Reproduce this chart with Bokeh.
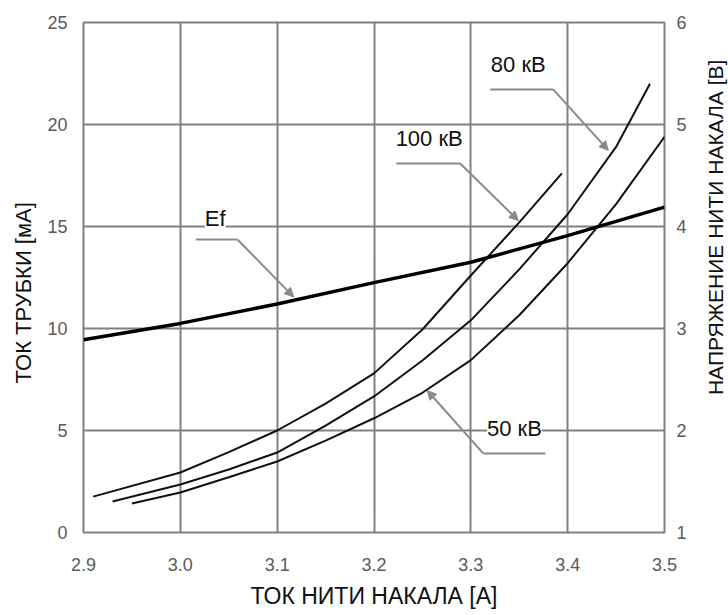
import math
from bokeh.plotting import figure
from bokeh.layouts import row
from bokeh.models import Range1d, LinearAxis, FixedTicker, Label, Arrow, NormalHead, PrintfTickFormatter
from bokeh.embed import file_html
from bokeh.resources import INLINE

# ---- data ----
x_ticks = [2.9, 3.0, 3.1, 3.2, 3.3, 3.4, 3.5]
y_ticks = [0, 5, 10, 15, 20, 25]
v_ticks = [1, 2, 3, 4, 5, 6]

x_100 = [2.91, 3.0, 3.05, 3.1, 3.15, 3.2, 3.25, 3.3, 3.35, 3.394]
i_100 = [1.76, 2.94, 3.94, 5.0, 6.32, 7.8, 9.95, 12.6, 15.2, 17.6]

x_80 = [2.93, 3.0, 3.05, 3.1, 3.15, 3.2, 3.25, 3.3, 3.35, 3.4, 3.45, 3.485]
i_80 = [1.52, 2.35, 3.09, 3.92, 5.24, 6.67, 8.43, 10.4, 12.9, 15.6, 18.9, 22.0]

x_50 = [2.95, 3.0, 3.05, 3.1, 3.15, 3.2, 3.25, 3.3, 3.35, 3.4, 3.45, 3.5]
i_50 = [1.42, 1.96, 2.71, 3.48, 4.5, 5.6, 6.85, 8.45, 10.65, 13.2, 16.1, 19.4]

x_ef = [2.9, 3.0, 3.1, 3.2, 3.3, 3.4, 3.5]
v_ef = [2.89, 3.05, 3.24, 3.45, 3.65, 3.91, 4.19]

labels = ["Ef", "100 кВ", "80 кВ", "50 кВ"]
label_x = [3.036, 3.257, 3.349, 3.345]
label_y = [15.39, 19.3, 22.94, 5.1]
# leader lines: start (free end), elbow, arrow tip
lead_start = [(3.016, 14.36), (3.223, 18.09), (3.320, 21.72), (3.377, 3.87)]
lead_elbow = [(3.059, 14.36), (3.289, 18.09), (3.385, 21.72), (3.313, 3.87)]
lead_tip = [(3.117, 11.55), (3.349, 15.29), (3.442, 18.73), (3.255, 6.96)]

x_title = "ТОК НИТИ НАКАЛА [А]"
y_title = "ТОК ТРУБКИ [мА]"
v_title = "НАПРЯЖЕНИЕ НИТИ НАКАЛА [В]"

FONT = "Liberation Sans"
GRID = "#808080"
H = 615

p = figure(width=700, height=H,
           x_range=Range1d(2.9, 3.5), y_range=Range1d(0, 25),
           output_backend="svg", toolbar_location=None,
           min_border_left=83, min_border_right=36,
           min_border_top=22, min_border_bottom=83,
           background_fill_color="white", border_fill_color="white")
p.extra_y_ranges = {"v": Range1d(1, 6)}

xaxis = p.below[0]
laxis = p.left[0]
xaxis.ticker = FixedTicker(ticks=x_ticks)
xaxis.formatter = PrintfTickFormatter(format="%.1f")
laxis.ticker = FixedTicker(ticks=y_ticks)
p.xgrid.ticker = FixedTicker(ticks=x_ticks)
p.ygrid.ticker = FixedTicker(ticks=y_ticks)

raxis = LinearAxis(y_range_name="v", ticker=FixedTicker(ticks=v_ticks))
p.add_layout(raxis, "right")

xaxis.axis_label = x_title
laxis.axis_label = y_title + "\u00a0" * 5

for ax in [xaxis, laxis, raxis]:
    ax.axis_line_color = None
    ax.major_tick_line_color = None
    ax.major_tick_out = 0
    ax.major_tick_in = 0
    ax.minor_tick_line_color = None
    ax.minor_tick_out = 0
    ax.major_label_text_font = FONT
    ax.major_label_text_font_size = "18px"
    ax.major_label_text_color = "#5a5a5a"
    ax.axis_label_text_font = FONT
    ax.axis_label_text_font_size = "22px"
    ax.axis_label_text_font_style = "normal"
    ax.axis_label_text_color = "#111111"

xaxis.axis_label_text_font_size = "23px"
xaxis.major_label_standoff = 25
xaxis.axis_label_standoff = 9
laxis.major_label_standoff = 16
laxis.axis_label_standoff = 8
raxis.major_label_standoff = 12

p.grid.grid_line_color = GRID
p.grid.grid_line_width = 2
p.outline_line_color = GRID
p.outline_line_width = 2
p.outline_line_alpha = 1

# curves
p.line(x_100, i_100, line_color="#111111", line_width=2)
p.line(x_80, i_80, line_color="#111111", line_width=2)
p.line(x_50, i_50, line_color="#111111", line_width=2)
p.line(x_ef, v_ef, y_range_name="v", line_color="#000000", line_width=3.5)

# leaders
for s, e, t in zip(lead_start, lead_elbow, lead_tip):
    p.line([s[0], e[0]], [s[1], e[1]], line_color="#8a8a8a", line_width=2)
    p.add_layout(Arrow(end=NormalHead(size=9, fill_color="#8a8a8a", line_color="#8a8a8a"),
                       x_start=e[0], y_start=e[1], x_end=t[0], y_end=t[1],
                       line_color="#8a8a8a", line_width=2))

for txt, lx, ly in zip(labels, label_x, label_y):
    bg = "white" if txt in ("Ef", "50 кВ") else None
    p.add_layout(Label(x=lx, y=ly, text=txt, text_font=FONT, text_font_size="22px",
                       text_color="#111111", text_align="center", text_baseline="middle",
                       background_fill_color=bg))

# narrow strip on the right carrying the right-axis title (reads bottom-to-top)
p2 = figure(width=28, height=H, x_range=Range1d(0, 28), y_range=Range1d(0, H),
            output_backend="svg", toolbar_location=None,
            x_axis_type=None, y_axis_type=None,
            min_border_left=0, min_border_right=0, min_border_top=0, min_border_bottom=0,
            background_fill_color="white", border_fill_color="white")
p2.outline_line_color = None
p2.grid.visible = False
p2.add_layout(Label(x=15, y=H - 247, text=v_title, angle=math.pi / 2, text_font=FONT,
                    text_font_size="21px", text_color="#111111",
                    text_align="center", text_baseline="middle"))

layout = row(p, p2)
open("out.html", "w").write(file_html(layout, INLINE))
